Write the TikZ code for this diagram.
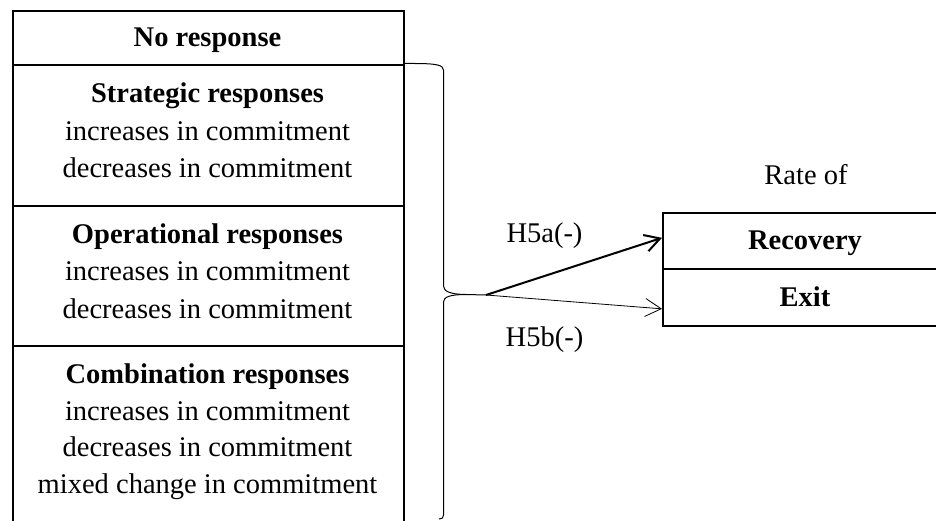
\documentclass[tikz,border=0pt]{standalone}
\usepackage{fontspec}
\setmainfont{Liberation Serif}
\usetikzlibrary{arrows.meta,calc}
\begin{document}
\begin{tikzpicture}[x=1pt,y=-1pt,
  box/.style={draw, line width=1.7pt, rectangle, inner sep=0pt, anchor=north west},
  txt/.style={font=\fontsize{28.5}{37.5}\selectfont, inner sep=0pt},
  lbl/.style={txt, align=center, anchor=base},
  bracepath/.style={line width=1pt},
  strongarrow/.style={line width=2pt, -{Straight Barb[length=15pt,width=17pt]}},
  weakarrow/.style={line width=0.8pt, -{Straight Barb[length=16pt,width=18pt]}}]
\useasboundingbox (0,0) rectangle (936,521);
\clip (0,0) rectangle (936,521);

% response categories (column runs past the lower edge)
\node[box, minimum width=391pt, minimum height=54pt] (nores) at (12,10) {};
\node[box, minimum width=391pt, minimum height=141pt] (strat) at (12,64) {};
\node[box, minimum width=391pt, minimum height=140pt] (oper) at (12,205) {};
\node[box, minimum width=391pt, minimum height=200pt] (comb) at (12,345) {};

% multi-line labels are placed by the baseline of their last line
\node[lbl] (noresT) at (207.5,46.5) {\textbf{No response}};
\node[lbl] (stratT) at (207.5,178) {\textbf{Strategic responses}\\increases in commitment\\decreases in commitment};
\node[lbl] (operT) at (207.5,318) {\textbf{Operational responses}\\increases in commitment\\decreases in commitment};
\node[lbl, font=\fontsize{28.5}{36.5}\selectfont] (combT) at (207.5,493) {\textbf{Combination responses}\\increases in commitment\\decreases in commitment\\mixed change in commitment};

% outcomes (box runs past the right edge)
\node[box, minimum width=286pt, minimum height=56pt] (recov) at (662,212) {};
\node[box, minimum width=286pt, minimum height=57pt] (exitbox) at (662,268) {};
\node[lbl] (recovT) at (805,250) {\textbf{Recovery}};
\node[lbl] (exitT) at (805,306.5) {\textbf{Exit}};
\node[lbl] (rate) at (806,185) {Rate of};

% curly brace grouping the responses
\coordinate (src) at (486,295);
\draw[bracepath] (403,63.5) -- (414,63.5) .. controls (436,63.5) and (443.5,65) .. (443.5,70)
  -- (443.5,286) .. controls (443.5,291) and (450,294.5) .. (466,294.5) -- (src);
\draw[bracepath] (466,294.5) .. controls (450,294.5) and (443.5,297) .. (443.5,302)
  -- (443.5,515) .. controls (443.5,518) and (442,519) .. (439,519);

% hypothesised effects
\draw[strongarrow] (src) -- ($(recov.west)+(0,-3)$);
\draw[weakarrow] (src) -- ($(exitbox.west)+(0,11.5)$);
\node[lbl] (h5a) at (544.5,243) {H5a(-)};
\node[lbl] (h5b) at (544.5,346.5) {H5b(-)};
\end{tikzpicture}
\end{document}
